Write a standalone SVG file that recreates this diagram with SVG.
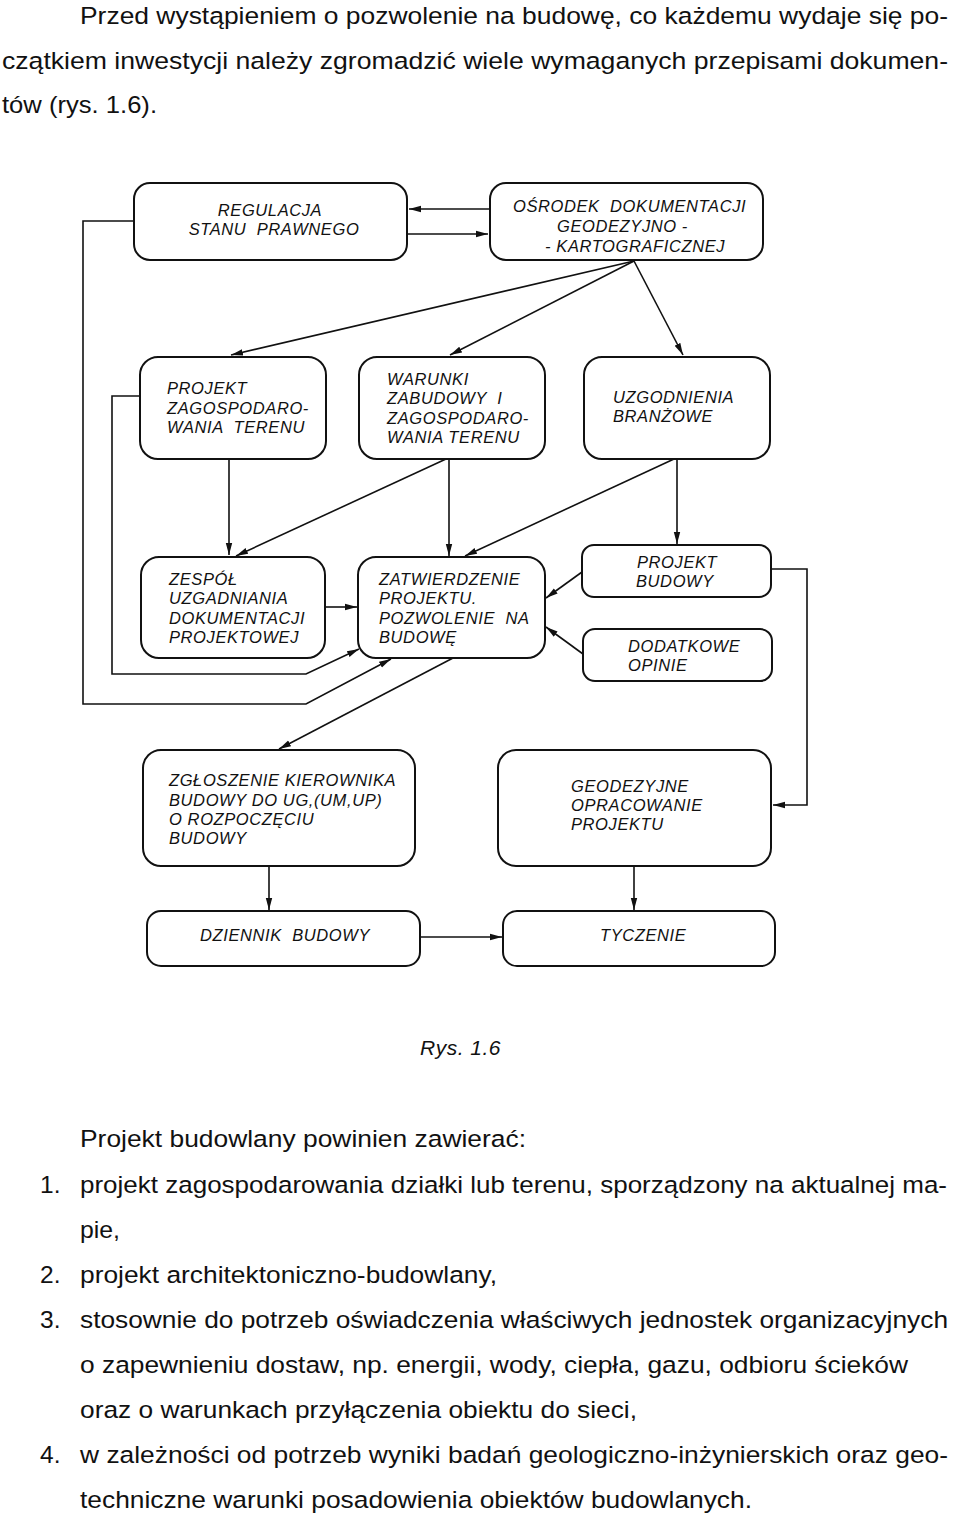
<svg xmlns="http://www.w3.org/2000/svg" width="960" height="1520" viewBox="0 0 960 1520">
<style>
.body{font-family:"Liberation Sans",Arial,sans-serif;font-size:24.5px;fill:#111}
.bx rect{fill:#fff;stroke:#111;stroke-width:2}
.bx text{font-family:"Liberation Sans",Arial,sans-serif;font-size:16.5px;font-style:italic;letter-spacing:0.6px;fill:#111}
.cap{font-family:"Liberation Sans",Arial,sans-serif;font-size:21px;font-style:italic;letter-spacing:0.5px;fill:#111}
#connectors path{fill:none;stroke:#111;stroke-width:1.6;marker-end:url(#ah)}
</style>
<defs>
<marker id="ah" markerUnits="userSpaceOnUse" markerWidth="13" markerHeight="8" refX="12" refY="4" orient="auto">
<path d="M0,0.8 L12,4 L0,7.2 Z" fill="#111"/>
</marker>
</defs>
<rect width="960" height="1520" fill="#fff"/>

<g id="intro" class="body">
<text x="80" y="24" textLength="868" lengthAdjust="spacingAndGlyphs">Przed wystąpieniem o pozwolenie na budowę, co każdemu wydaje się po-</text>
<text x="2" y="68.5" textLength="946" lengthAdjust="spacingAndGlyphs">czątkiem inwestycji należy zgromadzić wiele wymaganych przepisami dokumen-</text>
<text x="2" y="113" textLength="155" lengthAdjust="spacingAndGlyphs">tów (rys. 1.6).</text>
</g>

<g id="connectors">
<path d="M490,209 H409"/>
<path d="M407,234 H488"/>
<path d="M634,261 L231,355"/>
<path d="M634,261 L450,355"/>
<path d="M634,261 L683,355"/>
<path d="M134,221 H83 V704 H306 L391,659"/>
<path d="M140,396 H112 V674 H306 L359,649"/>
<path d="M229,459 V555"/>
<path d="M446,459 L236,556"/>
<path d="M449,459 V556"/>
<path d="M674,459 L465,556"/>
<path d="M677,459 V544"/>
<path d="M325,607 H357"/>
<path d="M582,572 L546,598"/>
<path d="M583,654 L546,627"/>
<path d="M453,658 L279,749"/>
<path d="M771,569 H807 V805 H773"/>
<path d="M269,866 V910"/>
<path d="M634,866 V910"/>
<path d="M420,937 H502"/>
</g>

<g id="n-regulacja" class="bx">
<rect x="134" y="183" width="273" height="77" rx="16"/>
<text x="270" y="216" text-anchor="middle">REGULACJA</text>
<text x="274" y="235" text-anchor="middle" xml:space="preserve">STANU  PRAWNEGO</text>
</g>
<g id="n-osrodek" class="bx">
<rect x="490" y="183" width="273" height="77" rx="16"/>
<text x="513" y="212" xml:space="preserve">OŚRODEK  DOKUMENTACJI</text>
<text x="557" y="232">GEODEZYJNO -</text>
<text x="545" y="252">- KARTOGRAFICZNEJ</text>
</g>
<g id="n-pzt" class="bx">
<rect x="140" y="357" width="186" height="102" rx="18"/>
<text x="167" y="394">PROJEKT</text>
<text x="167" y="414">ZAGOSPODARO-</text>
<text x="167" y="433" xml:space="preserve">WANIA  TERENU</text>
</g>
<g id="n-warunki" class="bx">
<rect x="359" y="357" width="186" height="102" rx="18"/>
<text x="387" y="385">WARUNKI</text>
<text x="387" y="404" xml:space="preserve">ZABUDOWY  I</text>
<text x="387" y="424">ZAGOSPODARO-</text>
<text x="387" y="443">WANIA TERENU</text>
</g>
<g id="n-uzgodnienia" class="bx">
<rect x="584" y="357" width="186" height="102" rx="18"/>
<text x="613" y="403">UZGODNIENIA</text>
<text x="613" y="422">BRANŻOWE</text>
</g>
<g id="n-zespol" class="bx">
<rect x="141" y="557" width="184" height="101" rx="18"/>
<text x="169" y="585">ZESPÓŁ</text>
<text x="169" y="604">UZGADNIANIA</text>
<text x="169" y="624">DOKUMENTACJI</text>
<text x="169" y="643">PROJEKTOWEJ</text>
</g>
<g id="n-zatwierdzenie" class="bx">
<rect x="358" y="557" width="187" height="101" rx="18"/>
<text x="379" y="585">ZATWIERDZENIE</text>
<text x="379" y="604">PROJEKTU.</text>
<text x="379" y="624" xml:space="preserve">POZWOLENIE  NA</text>
<text x="379" y="643">BUDOWĘ</text>
</g>
<g id="n-projekt-budowy" class="bx">
<rect x="582" y="545" width="189" height="52" rx="12"/>
<text x="637" y="568">PROJEKT</text>
<text x="636" y="587">BUDOWY</text>
</g>
<g id="n-dodatkowe" class="bx">
<rect x="583" y="629" width="189" height="52" rx="12"/>
<text x="628" y="652">DODATKOWE</text>
<text x="628" y="671">OPINIE</text>
</g>
<g id="n-zgloszenie" class="bx">
<rect x="143" y="750" width="272" height="116" rx="18"/>
<text x="169" y="786">ZGŁOSZENIE KIEROWNIKA</text>
<text x="169" y="806">BUDOWY DO UG,(UM,UP)</text>
<text x="169" y="825">O ROZPOCZĘCIU</text>
<text x="169" y="844">BUDOWY</text>
</g>
<g id="n-geodezyjne" class="bx">
<rect x="498" y="750" width="273" height="116" rx="18"/>
<text x="571" y="792">GEODEZYJNE</text>
<text x="571" y="811">OPRACOWANIE</text>
<text x="571" y="830">PROJEKTU</text>
</g>
<g id="n-dziennik" class="bx">
<rect x="147" y="911" width="273" height="55" rx="14"/>
<text x="200" y="941" xml:space="preserve">DZIENNIK  BUDOWY</text>
</g>
<g id="n-tyczenie" class="bx">
<rect x="503" y="911" width="272" height="55" rx="14"/>
<text x="600" y="941">TYCZENIE</text>
</g>

<text class="cap" x="420" y="1055">Rys. 1.6</text>

<g id="list" class="body">
<text x="80" y="1147" textLength="446" lengthAdjust="spacingAndGlyphs">Projekt budowlany powinien zawierać:</text>
<text x="40" y="1193">1.</text>
<text x="80" y="1193" textLength="867" lengthAdjust="spacingAndGlyphs">projekt zagospodarowania działki lub terenu, sporządzony na aktualnej ma-</text>
<text x="80" y="1238" textLength="40" lengthAdjust="spacingAndGlyphs">pie,</text>
<text x="40" y="1283">2.</text>
<text x="80" y="1283" textLength="417" lengthAdjust="spacingAndGlyphs">projekt architektoniczno-budowlany,</text>
<text x="40" y="1328">3.</text>
<text x="80" y="1328" textLength="868" lengthAdjust="spacingAndGlyphs">stosownie do potrzeb oświadczenia właściwych jednostek organizacyjnych</text>
<text x="80" y="1373" textLength="828" lengthAdjust="spacingAndGlyphs">o zapewnieniu dostaw, np. energii, wody, ciepła, gazu, odbioru ścieków</text>
<text x="80" y="1418" textLength="557" lengthAdjust="spacingAndGlyphs">oraz o warunkach przyłączenia obiektu do sieci,</text>
<text x="40" y="1463">4.</text>
<text x="80" y="1463" textLength="868" lengthAdjust="spacingAndGlyphs">w zależności od potrzeb wyniki badań geologiczno-inżynierskich oraz geo-</text>
<text x="80" y="1508" textLength="672" lengthAdjust="spacingAndGlyphs">techniczne warunki posadowienia obiektów budowlanych.</text>
</g>
</svg>
